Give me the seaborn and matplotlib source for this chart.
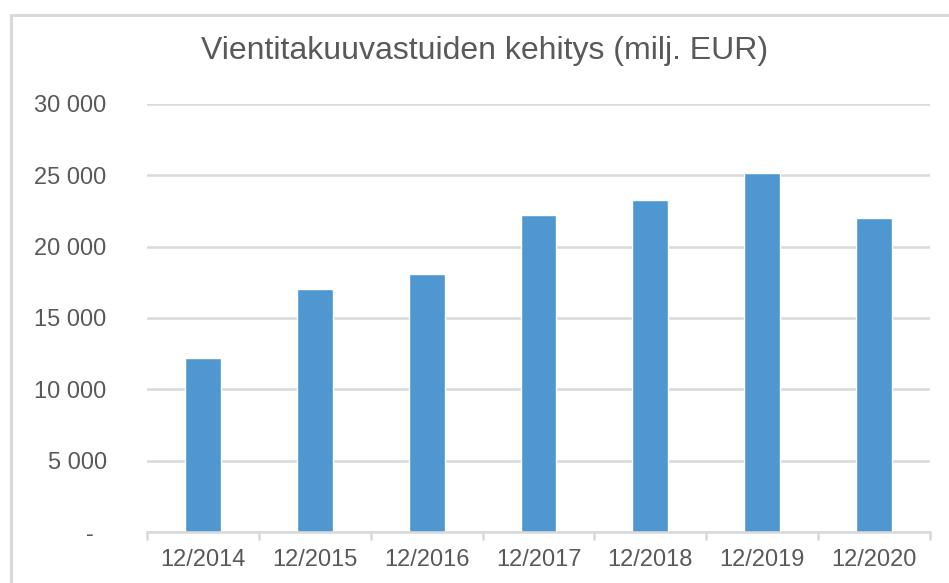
import matplotlib
matplotlib.use("Agg")
import matplotlib.pyplot as plt
import matplotlib.lines as mlines
from matplotlib.transforms import ScaledTranslation
import seaborn as sns
import pandas as pd
import numpy as np

categories = ["12/2014", "12/2015", "12/2016", "12/2017", "12/2018", "12/2019", "12/2020"]
values = [12200, 17000, 18050, 22200, 23250, 25150, 22000]
yticks = [0, 5000, 10000, 15000, 20000, 25000, 30000]
ytick_labels = ["-", "5 000", "10 000", "15 000", "20 000", "25 000", "30 000"]
title = "Vientitakuuvastuiden kehitys (milj. EUR)"

sns.set_style("white")
plt.rcParams["font.family"] = ["Liberation Sans", "DejaVu Sans"]

TXT = "#595959"
GRID = "#d9d9d9"
BAR = "#4f97d1"

W, H = 949, 583
fig = plt.figure(figsize=(W / 100, H / 100), dpi=100)
ax = fig.add_axes([147 / W, 1 - 532 / H, (930 - 147) / W, (532 - 104) / H])

df = pd.DataFrame({"cat": categories, "val": values})
sns.barplot(data=df, x="cat", y="val", color=BAR, width=0.32, saturation=1, ax=ax, zorder=3)

ax.set_ylim(0, 30000)
ax.set_xlim(-0.5, len(categories) - 0.5)
ax.set_yticks(yticks)
ax.set_yticklabels(ytick_labels)
ax.set_xlabel("")
ax.set_ylabel("")

ax.grid(axis="y", color=GRID, lw=1.8, zorder=0)
ax.grid(axis="x", visible=False)
for s in ["top", "right", "left"]:
    ax.spines[s].set_visible(False)
ax.spines["bottom"].set_color(GRID)
ax.spines["bottom"].set_linewidth(1.8)
ax.spines["bottom"].set_zorder(4)

ax.tick_params(axis="y", length=0, pad=29, labelsize=17, labelcolor=TXT)
ax.tick_params(axis="x", which="major", length=0, pad=12, labelsize=17, labelcolor=TXT)
ax.set_xticks(np.arange(-0.5, len(categories), 1.0), minor=True)
ax.tick_params(axis="x", which="minor", length=6, width=1.8, color=GRID, bottom=True)

for lbl in ax.get_yticklabels():
    if lbl.get_text() == "-":
        lbl.set_transform(lbl.get_transform() + ScaledTranslation(-13 / 100, 0, fig.dpi_scale_trans))

fig.text(485 / W, 1 - 51 / H, title, ha="center", va="center", fontsize=23, color=TXT)

# chart border (top and left visible)
fig.add_artist(mlines.Line2D([11 / W, 1.0], [1 - 14.5 / H, 1 - 14.5 / H], color=GRID, lw=2.2, transform=fig.transFigure))
fig.add_artist(mlines.Line2D([11 / W, 11 / W], [1 - 14.5 / H, 0.0], color=GRID, lw=2.2, transform=fig.transFigure))

fig.savefig("out.png", dpi=100)
